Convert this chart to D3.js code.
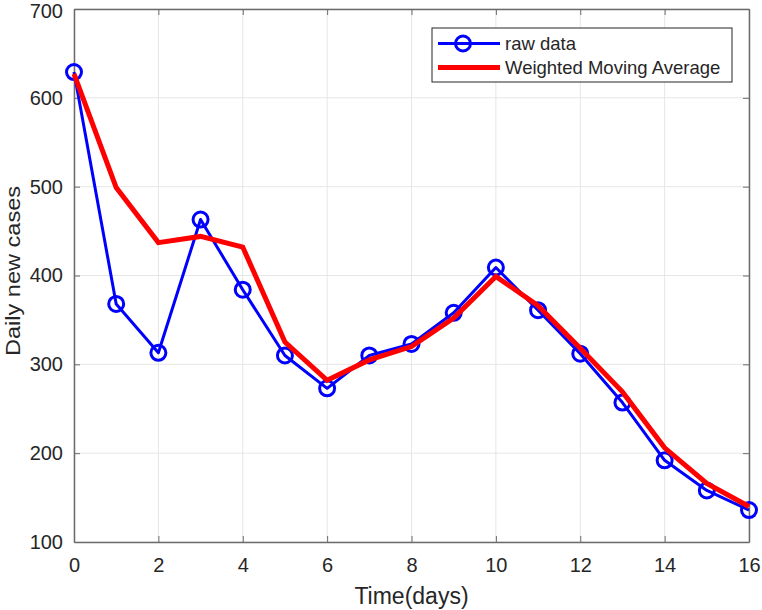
<!DOCTYPE html>
<html>
<head>
<meta charset="utf-8">
<script src="https://cdn.jsdelivr.net/npm/d3@7"></script>
<style>
  body { margin: 0; background: #fff; }
  text { font-family: "Liberation Sans", Arial, sans-serif; fill: #262626; }
</style>
</head>
<body>
<div id="chart"></div>
<script>
// DATA
const days = [0, 1, 2, 3, 4, 5, 6, 7, 8, 9, 10, 11, 12, 13, 14, 15, 16];
const rawData = [629, 368, 313, 463, 384, 310, 273, 310, 323, 358, 409, 361, 312, 257, 192, 158, 136];
const wmaData = [627, 499, 437, 444, 432, 325, 282, 305, 320, 352, 399, 366, 318, 269, 206, 166, 140];
const xTicks = [0, 2, 4, 6, 8, 10, 12, 14, 16];
const yTicks = [100, 200, 300, 400, 500, 600, 700];
const seriesNames = ["raw data", "Weighted Moving Average"];

// SIZE
const width = 762;
const height = 610;
const margin = { left: 74, right: 13, top: 9, bottom: 68 };

const x = d3.scaleLinear().domain([0, 16]).range([margin.left, width - margin.right]);
const y = d3.scaleLinear().domain([100, 700]).range([height - margin.bottom, margin.top]);

const svg = d3.select("#chart").append("svg")
    .attr("width", width)
    .attr("height", height);

// GRID
svg.append("g").selectAll("line").data(xTicks).enter().append("line")
    .attr("x1", d => x(d)).attr("x2", d => x(d))
    .attr("y1", y(100)).attr("y2", y(700))
    .attr("stroke", "#e6e6e6").attr("stroke-width", 1);
svg.append("g").selectAll("line").data(yTicks).enter().append("line")
    .attr("x1", x(0)).attr("x2", x(16))
    .attr("y1", d => y(d)).attr("y2", d => y(d))
    .attr("stroke", "#e6e6e6").attr("stroke-width", 1);

// AXES
const axisColor = "#6b6b6b";
function styleAxis(g) {
    g.attr("font-size", 20).attr("font-family", null);
    g.select(".domain").attr("stroke", axisColor).attr("stroke-width", 1.5);
    g.selectAll(".tick line").attr("stroke", axisColor).attr("stroke-width", 1);
    g.selectAll(".tick text").attr("font-size", 20).style("font-size", "20px").attr("fill", "#262626");
}

svg.append("g")
    .attr("transform", "translate(0," + y(100) + ")")
    .call(d3.axisBottom(x).tickValues(xTicks).tickSizeInner(-6).tickSizeOuter(0).tickPadding(16))
    .call(styleAxis);

svg.append("g")
    .attr("transform", "translate(0," + y(700) + ")")
    .call(d3.axisTop(x).tickValues(xTicks).tickSizeInner(-6).tickSizeOuter(0).tickFormat(""))
    .call(styleAxis);

svg.append("g")
    .attr("transform", "translate(" + x(0) + ",0)")
    .call(d3.axisLeft(y).tickValues(yTicks).tickSizeInner(-6).tickSizeOuter(0).tickPadding(11))
    .call(styleAxis)
    // keep the top label inside the page
    .selectAll(".tick text")
    .filter(d => d === 700)
    .attr("y", 2);

svg.append("g")
    .attr("transform", "translate(" + x(16) + ",0)")
    .call(d3.axisRight(y).tickValues(yTicks).tickSizeInner(-6).tickSizeOuter(0).tickFormat(""))
    .call(styleAxis);

// LINES
const line = d3.line()
    .x((d, i) => x(days[i]))
    .y(d => y(d));

svg.append("path")
    .datum(rawData)
    .attr("d", line)
    .attr("fill", "none")
    .attr("stroke", "#0000ff")
    .attr("stroke-width", 3)
    .attr("stroke-linejoin", "round");

svg.append("g").selectAll("circle").data(rawData).enter().append("circle")
    .attr("cx", (d, i) => x(days[i]))
    .attr("cy", d => y(d))
    .attr("r", 7.5)
    .attr("fill", "none")
    .attr("stroke", "#0000ff")
    .attr("stroke-width", 3);

svg.append("path")
    .datum(wmaData)
    .attr("d", line)
    .attr("fill", "none")
    .attr("stroke", "#ff0000")
    .attr("stroke-width", 5);

// AXIS LABELS
svg.append("text")
    .attr("x", (x(0) + x(16)) / 2)
    .attr("y", 604)
    .attr("text-anchor", "middle")
    .style("font-size", "23px")
    .text("Time(days)");

svg.append("text")
    .attr("transform", "translate(20,271) rotate(-90)")
    .attr("text-anchor", "middle")
    .attr("textLength", 170)
    .attr("lengthAdjust", "spacingAndGlyphs")
    .style("font-size", "21px")
    .text("Daily new cases");

// LEGEND
const legend = svg.append("g").attr("transform", "translate(432,28)");
legend.append("rect")
    .attr("width", 300).attr("height", 54)
    .attr("fill", "#fff").attr("stroke", "#262626").attr("stroke-width", 1);

legend.append("line")
    .attr("x1", 6).attr("x2", 68).attr("y1", 15.5).attr("y2", 15.5)
    .attr("stroke", "#0000ff").attr("stroke-width", 3);
legend.append("circle")
    .attr("cx", 31).attr("cy", 15.5).attr("r", 7.5)
    .attr("fill", "none").attr("stroke", "#0000ff").attr("stroke-width", 3);
legend.append("line")
    .attr("x1", 6).attr("x2", 68).attr("y1", 39.5).attr("y2", 39.5)
    .attr("stroke", "#ff0000").attr("stroke-width", 5);

legend.selectAll("text.lab").data(seriesNames).enter().append("text")
    .attr("class", "lab")
    .attr("x", 73)
    .attr("y", (d, i) => 15.5 + i * 24)
    .attr("dy", "0.35em")
    .style("font-size", "18.5px")
    .text(d => d);
</script>
</body>
</html>
